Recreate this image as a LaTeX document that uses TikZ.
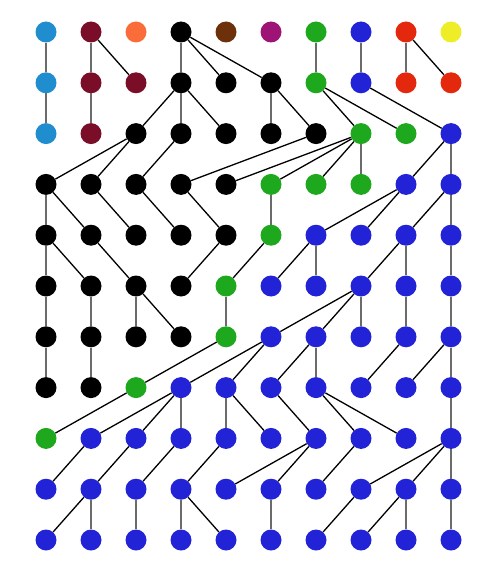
\documentclass[tikz,border=0pt]{standalone}
\usetikzlibrary{positioning}
\definecolor{cL}{RGB}{32,142,206}
\definecolor{cD}{RGB}{122,14,40}
\definecolor{cO}{RGB}{250,108,58}
\definecolor{cK}{RGB}{0,0,0}
\definecolor{cW}{RGB}{108,48,10}
\definecolor{cP}{RGB}{158,20,118}
\definecolor{cG}{RGB}{30,168,30}
\definecolor{cB}{RGB}{34,34,214}
\definecolor{cR}{RGB}{228,40,14}
\definecolor{cY}{RGB}{238,238,40}
\begin{document}
\begin{tikzpicture}[x=1pt,y=-1pt,
  dot/.style={circle,inner sep=0pt,minimum size=21pt},
  vert/.style={draw=black!58,line width=2pt},
  diag/.style={draw=black,line width=1.3pt}]
  \useasboundingbox (0,0) rectangle (481,567);
  % vertices, one colour letter per vertex, row by row
  \foreach \row [count=\r] in {
      {L,D,O,K,W,P,G,B,R,Y},
      {L,D,D,K,K,K,G,B,R,R},
      {L,D,K,K,K,K,K,G,G,B},
      {K,K,K,K,K,G,G,G,B,B},
      {K,K,K,K,K,G,B,B,B,B},
      {K,K,K,K,G,B,B,B,B,B},
      {K,K,K,K,G,B,B,B,B,B},
      {K,K,G,B,B,B,B,B,B,B},
      {G,B,B,B,B,B,B,B,B,B},
      {B,B,B,B,B,B,B,B,B,B},
      {B,B,B,B,B,B,B,B,B,B}}
    \foreach \c [count=\k] in \row
      \node[dot,fill=c\c] (n\k-\r) at ({46+45*(\k-1)},{32+50.8*(\r-1)}) {};
  % straight down
  \foreach \k/\r in {1/1,2/1,4/1,7/1,8/1,9/1, 1/2,2/2,4/2,6/2, 8/3,10/3,
      1/4,6/4,10/4, 1/5,7/5,9/5,10/5, 1/6,2/6,3/6,5/6,8/6,9/6,10/6,
      1/7,2/7,7/7,10/7, 4/8,5/8,10/8, 10/9, 2/10,3/10,4/10,6/10,9/10,10/10}
    {
    \pgfmathtruncatemacro{\s}{\r+1}
    \draw[vert] (n\k-\r) -- (n\k-\s);
    }
  % slanted
  \foreach \a/\b/\r in {2/3/1,4/5/1,4/6/1,9/10/1,
      4/3/2,4/5/2,6/7/2,7/8/2,7/9/2,8/10/2,
      3/1/3,3/2/3,4/3/3,7/4/3,8/5/3,8/6/3,8/7/3,10/9/3,
      1/2/4,2/3/4,3/4/4,4/5/4,9/7/4,9/8/4,10/9/4,
      1/2/5,2/3/5,5/4/5,6/5/5,7/6/5,9/8/5,
      3/4/6,8/6/6,8/7/6,
      5/3/7,6/4/7,6/5/7,7/6/7,9/8/7,10/9/7,
      3/1/8,4/2/8,4/3/8,5/6/8,6/7/8,7/8/8,7/9/8,
      2/1/9,3/2/9,4/3/9,5/4/9,7/5/9,7/6/9,8/7/9,10/8/9,10/9/9,
      2/1/10,4/5/10,8/7/10,9/8/10}
    {
    \pgfmathtruncatemacro{\s}{\r+1}
    \draw[diag] (n\a-\r) -- (n\b-\s);
    }
\end{tikzpicture}
\end{document}
